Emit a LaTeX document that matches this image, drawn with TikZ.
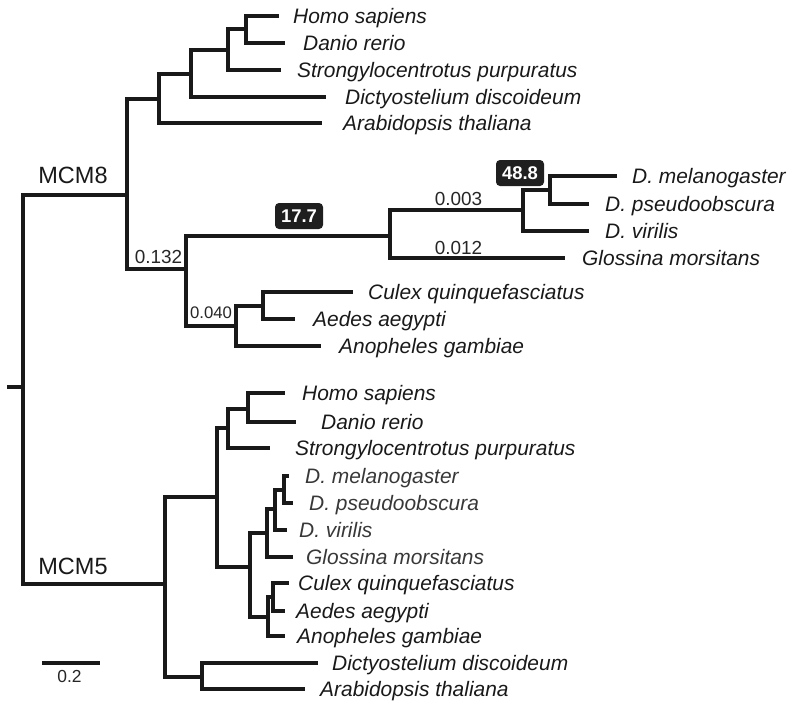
\documentclass[tikz,border=0pt]{standalone}
\usepackage{fontspec}
\setmainfont{Liberation Sans}[ItalicFont={Liberation Sans Italic}, BoldFont={Liberation Sans Bold}, BoldItalicFont={Liberation Sans Bold Italic}]
\begin{document}
\begin{tikzpicture}[x=1bp,y=-1bp,
  br/.style={line width=3.2bp, draw=black!90},
  sp/.style={font=\fontsize{21}{25}\selectfont\itshape, inner sep=0pt, anchor=base west, yshift=-7.3bp, text=black!90},
  spg/.style={sp, text=black!78},
  num/.style={font=\fontsize{19}{21}\selectfont, inner sep=0pt, text=black!85},
  boot/.style={fill=black!88, text=white, font=\fontsize{18.5}{21}\selectfont\bfseries, rounded corners=4bp, minimum width=48bp, minimum height=26bp, inner sep=0pt},
  clade/.style={font=\fontsize{23.6}{27}\selectfont, inner sep=0pt, text=black!90}]
\useasboundingbox (0,0) rectangle (800,710);

% ---------- internal nodes ----------
\coordinate (r0) at (7,387);
\coordinate (r)  at (23,387);
\coordinate (m8) at (127,195);
\coordinate (m5) at (165,584);
% MCM8 clade
\coordinate (a) at (159,99);
\coordinate (c) at (191,74);
\coordinate (d) at (228,50);
\coordinate (e) at (246,29);
\coordinate (b) at (186,269);
\coordinate (f) at (390,236);
\coordinate (h) at (523,210);
\coordinate (i) at (550,190);
\coordinate (g) at (236,326);
\coordinate (j) at (263,306);
% MCM5 clade
\coordinate (k) at (217,497);
\coordinate (n) at (228,428);
\coordinate (p) at (248,409);
\coordinate (o) at (250,567);
\coordinate (q) at (267,533);
\coordinate (t) at (275,509);
\coordinate (u) at (284,490);
\coordinate (s) at (268,617);
\coordinate (v) at (273,597);
\coordinate (l) at (202,677);

% ---------- leaves (labels and tips) ----------
\node[sp] (hs1) at (293,16) {Homo sapiens};           \coordinate (hs1t) at (279,16);
\node[sp] (dr1) at (303,43) {Danio rerio};            \coordinate (dr1t) at (285,43);
\node[sp] (sp1) at (297,70) {Strongylocentrotus purpuratus}; \coordinate (sp1t) at (281,70);
\node[sp] (dd1) at (345,97) {Dictyostelium discoideum}; \coordinate (dd1t) at (326,97);
\node[sp] (at1) at (343,123) {Arabidopsis thaliana};  \coordinate (at1t) at (322,123);
\node[sp] (dm1) at (632,176) {D. melanogaster};       \coordinate (dm1t) at (617,176);
\node[sp] (dp1) at (605,204) {D. pseudoobscura};      \coordinate (dp1t) at (589,204);
\node[sp] (dv1) at (605,231) {D. virilis};            \coordinate (dv1t) at (589,231);
\node[sp] (gm1) at (582,258) {Glossina morsitans};    \coordinate (gm1t) at (565,258);
\node[sp] (cq1) at (368,292) {Culex quinquefasciatus}; \coordinate (cq1t) at (353,292);
\node[sp] (aa1) at (313,319) {Aedes aegypti};         \coordinate (aa1t) at (295,319);
\node[sp] (ag1) at (339,346) {Anopheles gambiae};     \coordinate (ag1t) at (321,346);

\node[sp] (hs2) at (302,393) {Homo sapiens};          \coordinate (hs2t) at (285,393);
\node[sp] (dr2) at (321,422) {Danio rerio};           \coordinate (dr2t) at (296,422);
\node[sp] (sp2) at (295,448) {Strongylocentrotus purpuratus}; \coordinate (sp2t) at (270,448);
\node[spg] (dm2) at (305,476) {D. melanogaster};      \coordinate (dm2t) at (289,476);
\node[spg] (dp2) at (309,503) {D. pseudoobscura};     \coordinate (dp2t) at (293,503);
\node[spg] (dv2) at (299,530) {D. virilis};           \coordinate (dv2t) at (287,530);
\node[spg] (gm2) at (306,557) {Glossina morsitans};   \coordinate (gm2t) at (293,557);
\node[sp] (cq2) at (298,583) {Culex quinquefasciatus}; \coordinate (cq2t) at (289,583);
\node[sp] (aa2) at (296,611) {Aedes aegypti};         \coordinate (aa2t) at (285,611);
\node[sp] (ag2) at (297,636) {Anopheles gambiae};     \coordinate (ag2t) at (285,636);
\node[sp] (dd2) at (332,663) {Dictyostelium discoideum}; \coordinate (dd2t) at (318,663);
\node[sp] (at2) at (320,689) {Arabidopsis thaliana};  \coordinate (at2t) at (305,689);

% ---------- branches ----------
\draw[br] (r0) -- (r);
\draw[br] (r) |- (m8);
\draw[br] (r) |- (m5);
% MCM8
\draw[br] (m8) |- (a);
\draw[br] (m8) |- (b);
\draw[br] (a) |- (c);
\draw[br] (a) |- (at1t);
\draw[br] (c) |- (d);
\draw[br] (c) |- (dd1t);
\draw[br] (d) |- (e);
\draw[br] (d) |- (sp1t);
\draw[br] (e) |- (hs1t);
\draw[br] (e) |- (dr1t);
\draw[br] (b) |- (f);
\draw[br] (b) |- (g);
\draw[br] (f) |- (h);
\draw[br] (f) |- (gm1t);
\draw[br] (h) |- (i);
\draw[br] (h) |- (dv1t);
\draw[br] (i) |- (dm1t);
\draw[br] (i) |- (dp1t);
\draw[br] (g) |- (j);
\draw[br] (g) |- (ag1t);
\draw[br] (j) |- (cq1t);
\draw[br] (j) |- (aa1t);
% MCM5
\draw[br] (m5) |- (k);
\draw[br] (m5) |- (l);
\draw[br] (k) |- (n);
\draw[br] (k) |- (o);
\draw[br] (n) |- (p);
\draw[br] (n) |- (sp2t);
\draw[br] (p) |- (hs2t);
\draw[br] (p) |- (dr2t);
\draw[br] (o) |- (q);
\draw[br] (o) |- (s);
\draw[br] (q) |- (t);
\draw[br] (q) |- (gm2t);
\draw[br] (t) |- (u);
\draw[br] (t) |- (dv2t);
\draw[br] (u) |- (dm2t);
\draw[br] (u) |- (dp2t);
\draw[br] (s) |- (v);
\draw[br] (s) |- (ag2t);
\draw[br] (v) |- (cq2t);
\draw[br] (v) |- (aa2t);
\draw[br] (l) |- (dd2t);
\draw[br] (l) |- (at2t);

% ---------- labels ----------
\node[clade] (lm8) at (73,175) {MCM8};
\node[clade] (lm5) at (73,566.5) {MCM5};
\node[num] (n132) at (158.5,256.5) {0.132};
\node[num, font=\fontsize{16.8}{19}\selectfont] (n040) at (211,312.5) {0.040};
\node[num] (n003) at (458.5,199) {0.003};
\node[num] (n012) at (458.5,247.5) {0.012};
\node[boot] (b177) at (299,216) {17.7};
\node[boot] (b488) at (520,173) {48.8};

% ---------- scale bar ----------
\coordinate (sb1) at (42,663);
\coordinate (sb2) at (100,663);
\draw[br] (sb1) -- (sb2);
\node[num, font=\fontsize{17.5}{19}\selectfont] (sbl) at (69.5,676) {0.2};
\end{tikzpicture}
\end{document}
